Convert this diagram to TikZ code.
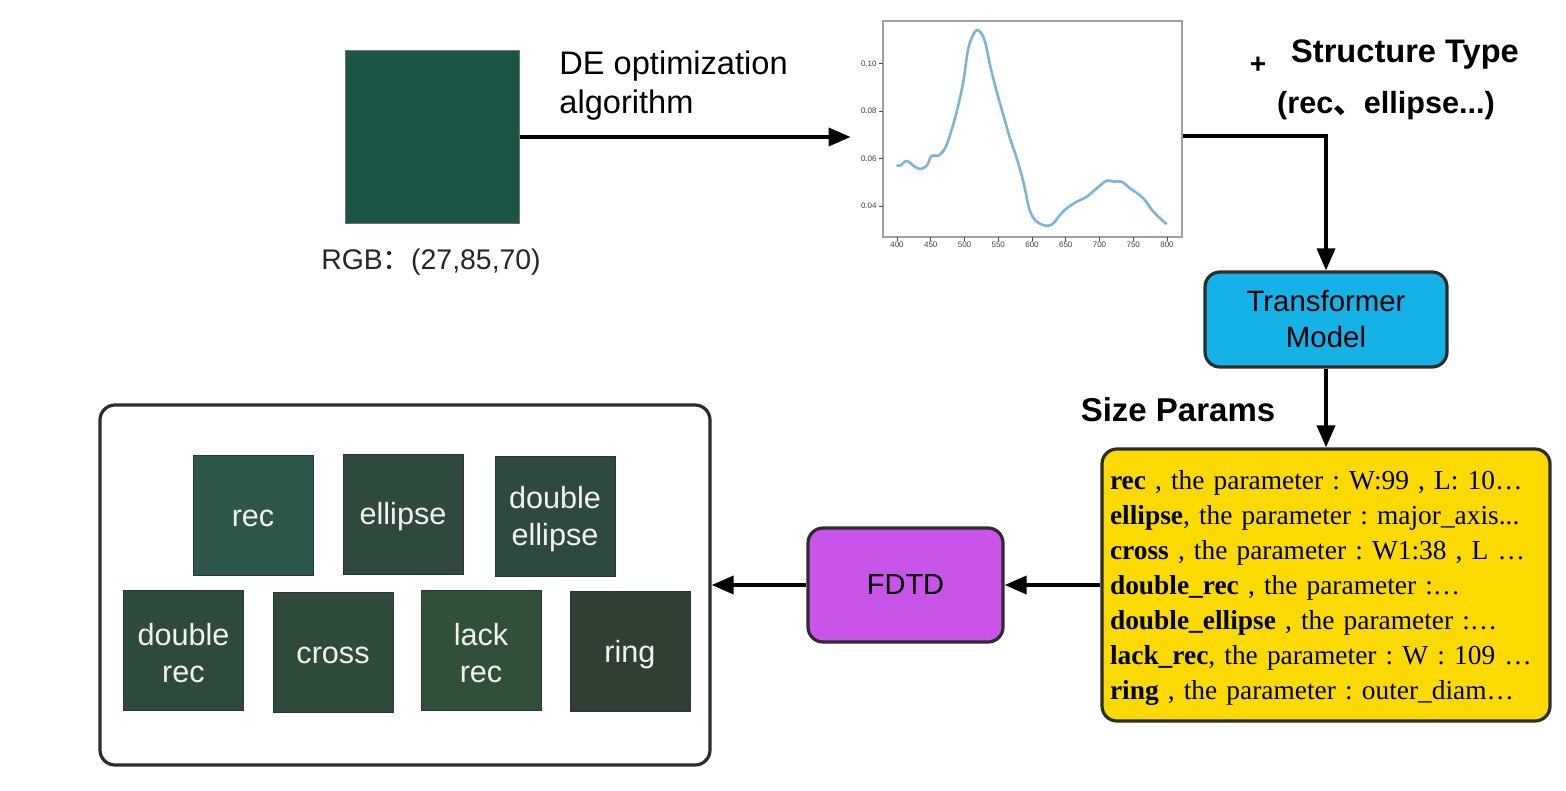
\documentclass[tikz,border=0pt]{standalone}
\usepackage{fontspec}
\setmainfont{Liberation Sans}
\newfontfamily\cjk{Noto Sans CJK SC}
\newfontfamily\timesfam{Liberation Serif}
\usetikzlibrary{arrows.meta}
\definecolor{rgbgreen}{RGB}{27,85,70}
\definecolor{tmblue}{RGB}{20,178,230}
\definecolor{fdtdpurple}{RGB}{200,84,232}
\definecolor{paramyellow}{RGB}{250,218,0}
\definecolor{boxborder}{RGB}{45,45,45}
\definecolor{sqborder}{RGB}{40,50,75}
\definecolor{curveblue}{RGB}{125,178,218}
\definecolor{axisgray}{RGB}{160,160,160}
\definecolor{sqA}{RGB}{46,87,75}
\definecolor{sqB}{RGB}{47,74,60}
\definecolor{sqC}{RGB}{46,74,64}
\definecolor{sqD}{RGB}{46,74,58}
\definecolor{sqE}{RGB}{47,76,56}
\definecolor{sqF}{RGB}{48,80,56}
\definecolor{sqG}{RGB}{47,64,50}
\begin{document}
\begin{tikzpicture}[x=0.5pt,y=-0.5pt,
  flowarrow/.style={draw=black,line width=1.8pt,-{Triangle[length=11pt,width=9pt]}},
  procbox/.style={draw=boxborder,line width=1.6pt,rounded corners=7.5pt,align=center,inner sep=0pt},
  shapesq/.style={draw=sqborder,line width=0.5pt,minimum width=60pt,minimum height=60pt,inner sep=0pt},
  sqlab/.style={inner sep=0pt,align=center,yshift=-1.5pt,text=white!95!black,font=\fontsize{15.3}{18.5}\selectfont},
  ticklab/.style={font=\fontsize{4}{4}\selectfont,text=black!75,inner sep=0.5pt}
]
\useasboundingbox (0,0) rectangle (1566,791);

% RGB colour square
\node[draw=sqborder!70,line width=0.5pt,fill=rgbgreen,minimum width=87pt,minimum height=86.5pt,inner sep=0pt] (rgbsq) at (432,137) {};
\node[font=\fontsize{14.2}{16}\selectfont,text=black!85] (rgblab) at (431,262) {RGB{\cjk ：}(27,85,70)};
\node[anchor=west,align=left,inner sep=0pt,font=\fontsize{16.3}{19.5}\selectfont] (delab) at (559,86) {DE optimization\\algorithm};

% spectrum plot
\node[minimum width=166pt,minimum height=117pt,inner sep=0pt] (plot) at (1017,136) {};
\draw[axisgray,line width=0.7pt] (883,21) rectangle (1182,237);
\foreach \v/\yy in {0.10/63.3,0.08/111,0.06/158.3,0.04/206}{
  \draw[black!70,line width=0.3pt] (879,\yy) -- (883,\yy);
  \node[ticklab,anchor=east] at (878,\yy) {\v};
}
\foreach \lab [count=\i from 0] in {400,450,500,550,600,650,700,750,800}{
  \draw[black!70,line width=0.3pt] ({897+33.75*\i},237) -- ({897+33.75*\i},241);
  \node[ticklab,anchor=north] at ({897+33.75*\i},241) {\lab};
}
\draw[curveblue,line width=1.3pt,line join=round] plot[smooth,tension=0.6] coordinates {
 (896.7,165) (900,165.7) (906.7,161) (913.3,165.7) (920,169) (926.7,165.7)
 (931.7,155.7) (938.3,155.7) (945,148.3) (950,135) (956.7,111.7) (963.3,81.7)
 (968.3,48.3) (975,31.7) (980,31.7) (985,41.7) (990,65) (996.7,91.7)
 (1003.3,115) (1010,138.3) (1016.7,158.3) (1023.3,181.7) (1028.3,205)
 (1031.7,215) (1036.7,221.7) (1043.3,225) (1048.3,225.7) (1053.3,223.3)
 (1060,215) (1066.7,208.3) (1076.7,201.7) (1086.7,196.7) (1096.7,188.3)
 (1106.7,180.7) (1113.3,181.7) (1121.7,181.7) (1130,188.3) (1143.3,198.3)
 (1153.3,211.7) (1166.7,224.3)};

% structure type labels
\node[font=\bfseries\fontsize{14}{14}\selectfont,inner sep=0pt] (plus) at (1258,65) {+};
\node[font=\bfseries\fontsize{16.3}{18}\selectfont,inner sep=0pt] (stype) at (1405,55) {Structure Type};
\node[font=\bfseries\fontsize{15.3}{17}\selectfont,inner sep=0pt] (stlist) at (1386,106) {(rec{\cjk\bfseries 、}ellipse...)};

% transformer
\node[procbox,fill=tmblue,minimum width=121pt,minimum height=47.5pt,font=\fontsize{14.7}{18}\selectfont] (tm) at (1326,319.5) {Transformer\\Model};
\node[font=\bfseries\fontsize{16.5}{18}\selectfont,inner sep=0pt] (sizelab) at (1178,410) {Size Params};

% parameter box
\node[procbox,fill=paramyellow,minimum width=224pt,minimum height=136pt] (params) at (1326,585) {};
\node[inner sep=0pt,text width=216pt,align=left,yshift=-1.6pt,font=\timesfam\frenchspacing\fontsize{13.7}{17.5}\selectfont] (paramtext) at (params.center) {%
\textbf{rec} , the parameter : W:99 , L: 10…\\
\textbf{ellipse}, the parameter : major\_axis...\\
\textbf{cross} , the parameter : W1:38 , L …\\
\textbf{double\_rec} , the parameter :…\\
\textbf{double\_ellipse} , the parameter :…\\
\textbf{lack\_rec}, the parameter : W : 109 …\\
\textbf{ring} , the parameter : outer\_diam…};

% FDTD
\node[procbox,fill=fdtdpurple,minimum width=97.5pt,minimum height=57pt,font=\fontsize{14.5}{17}\selectfont] (fdtd) at (905.5,585) {FDTD};

% structures box
\node[procbox,fill=white,minimum width=305pt,minimum height=180pt] (structs) at (405,585) {};
\node[shapesq,fill=sqA] (sqrec) at (253,515) {};
\node[shapesq,fill=sqB] (sqell) at (403,514) {};
\node[shapesq,fill=sqC] (sqdell) at (555,516) {};
\node[shapesq,fill=sqD] (sqdrec) at (183.5,650) {};
\node[shapesq,fill=sqE] (sqcross) at (333,652) {};
\node[shapesq,fill=sqF] (sqlack) at (481,650) {};
\node[shapesq,fill=sqG] (sqring) at (630,651.5) {};
\node[sqlab] (sqrecL) at (sqrec.center) {rec};
\node[sqlab] (sqellL) at (sqell.center) {ellipse};
\node[sqlab] (sqdellL) at (sqdell.center) {double\\ellipse};
\node[sqlab] (sqdrecL) at (sqdrec.center) {double\\rec};
\node[sqlab] (sqcrossL) at (sqcross.center) {cross};
\node[sqlab] (sqlackL) at (sqlack.center) {lack\\rec};
\node[sqlab] (sqringL) at (sqring.center) {ring};

% connectors
\draw[flowarrow] (rgbsq.east) -- (rgbsq.east -| plot.west);
\draw[flowarrow] (plot.east) -| (tm.north);
\draw[flowarrow] (tm.south) -- (params.north -| tm.south);
\draw[flowarrow] (params.west) -- (fdtd.east);
\draw[flowarrow] (fdtd.west) -- (structs.east);
\end{tikzpicture}
\end{document}
